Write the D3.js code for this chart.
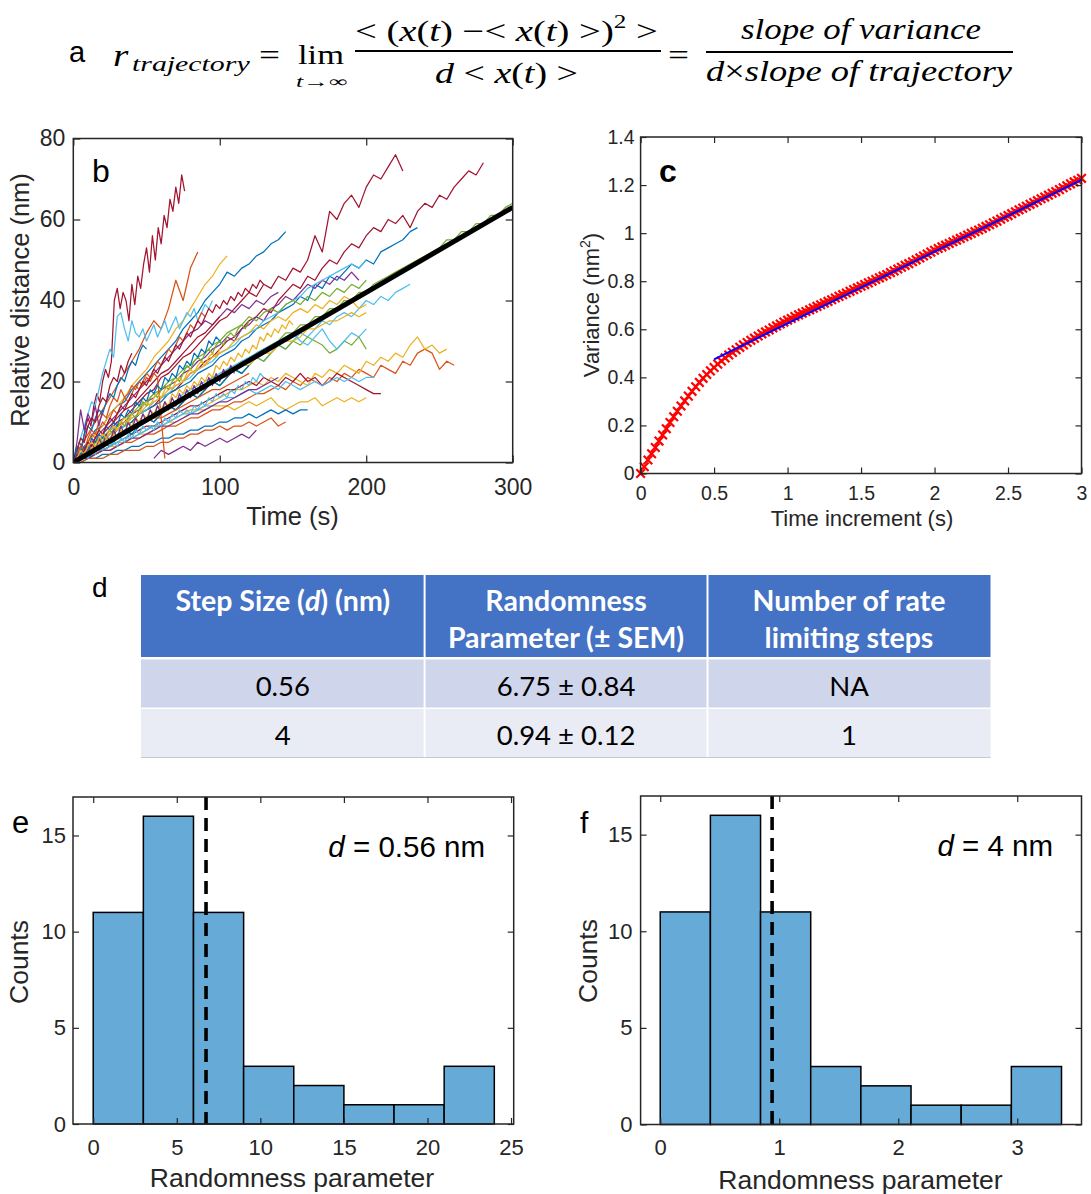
<!DOCTYPE html>
<html><head><meta charset="utf-8">
<script src="https://cdn.jsdelivr.net/npm/d3@7"></script>
<style>html,body{margin:0;padding:0;background:#fff}svg{display:block}</style>
</head><body>
<svg id="fig" width="1091" height="1194"></svg>
<script>
// ---------------- DATA ----------------
// panel b: trajectories (relative distance, nm), sampled from trajStart every trajDt seconds
const palette = ["#0072BD","#D95319","#EDB120","#7E2F8E","#77AC30","#4DBEEE","#A2142F"];
const trajColor = [6,6,6,0,0,4,1,2,3,5,2,1,2,6,5,0,1,3,4,2,5,5,5,3,3,0,1,6,2,4,1,3,0,6,4,2,5,3,0,1,6,2];
const trajStart = [0,0,0,0,0,0,0,0,0,0,0,0,0,0,0,0,0,55,0,0,0,0,0,0,0,0,0,0,0,0,0,0,0,0,0,0,0,0,0,0,0,0];
const trajDt    = [2,5,5,5,5,5,5,5,5,5,5,5,5,5,5,5,5,5,5,5,2.5,5,5,5,5,5,5,5,5,5,2.5,2.5,2.5,2.5,2.5,2.5,2.5,2.5,2.5,2.5,2.5,2.5];
const trajY = [
 [0,2,5,4,8,11,9,14,17,15,20,23,21,25,40,43,38,42,40,35,44,39,46,43,49,53,47,56,50,58,54,61,58,65,62,68,64,71,67],
 [0,1,3,5,6,8,10,11,13,15,17,18,21,22,24,26,27,29,31,33,35,36,38,40,42,41,44,43,46,45,48,47,50,56,52,62,60,64,66,63,68,71,70,73,76,72],
 [0,1,2,4,5,6,8,9,10,12,13,14,16,17,18,20,22,23,25,26,28,30,31,33,35,36,38,37,40,42,44,43,46,45,48,50,49,52,54,53,56,58,57,60,59,61,58,62,64,63,66,65,68,70,72,71,74],
 [0,3,5,8,9,12,14,15,18,20,22,24,26,28,30,33,35,37,40,42,44,47,46,48,49,51,52,54,55,57],
 [0,1,3,4,5,7,8,9,10,12,13,14,15,17,18,19,20,22,23,24,26,27,28,30,31,33,34,35,37,38,39,41,40,44,43,46,45,47,49,48,50,49,52,53,54,55,57,58],
 [0,1,2,3,4,5,6,8,8,10,10,12,12,14,14,16,17,18,19,21,21,23,23,25,25,27,28,29,30,32,32,34,34,36,36,38,38,40,40,42,42,44,45,46,47,48,49,50,51,52,53,55,55,57,57,59,59,61,61,63,64],
 [0,4,7,10,13,16,19,22,25,28,32,35,33,38,45,40,48,52],
 [0,2,5,7,9,12,14,16,19,21,23,26,28,30,33,35,38,41,44,46,49,51],
 [0,1,3,4,6,7,9,10,12,13,15,16,18,19,20,22,23,25,26,28,29,31,30,33,34,36,35,38,39,41,40,42,44,43,45,44,46,45,47,45],
 [0,2,1,3,5,4,6,8,7,9,11,10,12,14,13,15,17,16,18,20,19,21,23,22,24,26,25,27,29,28,30,32,31,33,35,34,36,37,36,38,40,39,41,40,42,43,44],
 [0,1,1,2,3,4,4,5,6,7,7,8,9,10,10,11,12,13,13,14,14,14,13,14,15,14,15,16,14,13,14,15,15,16,14,15,16,15,16,15,16],
 [0,1,1,2,3,3,4,5,5,6,7,7,8,9,9,10,11,11,12,13,13,14,15,15,16,17,17,18,19,18,20,19,21,20,19,21,20,22,21,23,22,21,24,23,22,25,24,27,28,27,23,25,24],
 [0,1,2,2,3,4,5,5,6,7,8,9,9,10,11,12,13,13,14,15,16,17,18,18,19,20,19,21,20,22,21,20,19,22,21,23,22,24,23,22,25,24,26,25,27,26,29,31,28,29,27,28],
 [0,1,2,3,3,4,5,6,7,8,9,9,10,11,12,13,14,14,15,16,17,18,18,19,20,19,21,20,19,21,20,22,20,21,19,20,22,21,20,19,18,17,17],
 [0,1,2,3,3,4,5,6,6,7,8,9,9,10,11,12,12,13,14,14,15,16,16,17,18,17,18,19,18,20,19,18,19,20,19,20,21,20,21,20,21,21],
 [0,0,1,1,2,2,3,3,4,4,5,5,6,6,7,7,8,8,9,9,10,10,11,11,12,11,12,13,12,13,12,13,13],
 [0,0,1,1,1,2,2,3,3,3,4,4,5,5,6,6,7,7,8,8,9,8,9,9,10,9,10,11,9,10],
 [1,3,2,3,4,3,5,4,5,6,5,6,7,6,8],
 [0,2,1,3,5,4,6,8,7,9,11,10,12,14,13,15,17,16,18,20,19,21,23,22,24,26,25,27,29,28,30,29,31,30,29,27,28,30,29,31,28],
 [0,2,3,3,5,6,6,8,9,9,11,12,12,14,15,15,17,18,18,20,21,21,23,24,24,26,27,27,29,30,30,31,33,33,34,35,35,36,37,36,37],
 [0,3,6,9,12,15,14,18,22,25,28,26,36,37,33,30,35,32,31,33,30,32,34,31,33,35,32,34,36,33,35,37,36,38,35,37,39,38,40],
 [0,1,2,3,4,5,7,8,9,10,11,12,13,14,15,17,18,19,20,21,22,23,24,25,26,27,28,29,30,31,32,30,29,31,33,30,28,30,32,31,33],
 [0,1,3,4,5,7,8,9,11,12,13,15,16,17,19,20,21,23,24,25,27,28,29,31,32,33,35,36,37,39,40,41,43,44,45,46,47,48,49,48,50],
 [0,1,1,2,3,3,4,5,6,6,7,8,9,9,10,11,12,12,13,14,15,15,16,17,18,18,19,20,21],
 [0,2,4,6,8,10,12,14,16,18,20,22,24,26,28,30,32,33,35,34,36,38,37,39,38,40,39,41,42],
 [0,2,1,3,5,4,6,8,7,9,11,10,12,14,13,15,17,16,18,20,19,21,23,22,24],
 [0,1,2,3,4,5,6,7,8,9,10,11,11,12,13,14,15,16,17,18,18,19,20,21,22],
 [0,2,4,5,7,9,11,13,14,16,18,20,22,23,25,27,29,31,32,34,36],
 [0,2,3,4,6,7,8,10,11,12,14,15,16,18,19,20,22,23,24,26,27,28,30,31,32,34,33,35,36,35,37,38,37,39,38,40,39,41,40,38,39],
 [0,2,3,5,6,8,9,11,12,14,15,17,18,20,21,23,24,26,27,29,30,32,33,34,36,35,37,38,37,39,40,39,41,40,42,41,43,42,44,43,45],
 [0,2,4,3,6,8,7,10,12,11,14,16,15,18,16,17,19,18,20,19,21,20,22,21,11,1],
 [0,5,13,8,12,10,14,9,13],
 [0,4,3,7,9,8,11,13,12,15,17,16,19,21,20,23,25,24,27,29,28],
 [0,3,6,5,9,11,10,14,16,15,19,21,20,24,22,25,27],
 [0,1,3,2,4,3,5,6,5,7,8,7,9,10,9,11,12,11,13,15,14,16,17,16,18,19,18,20,21,20,22,24,23,25,26,25,27,28,27,29,30,29,31,32,31,33,34,33,35],
 [0,2,1,3,2,4,3,5,4,6,5,7,6,8,7,10,9,11,10,12,11,13,12,14,13,15,14,17,16,18,17,19,18,20,19,21,20,22,21,24,23,25,24,26,25,27,26,28,27,29,28,31,30,32,31,33,32,34,33,35,34],
 [0,2,1,2,1,3,2,4,3,5,4,5,4,6,5,7,6,8,7,9,8,9,8,10,9,11,10,12,11,13,12,13,12,14,13,15,14,16,15,17,16,17,16,18,17,19,18,20,19,21,20,22,21],
 [0,3,1,4,2,5,3,6,4,7,5,8,6,9,7,10,8,11,9,12,10,13,11,14,12,15,13,16,14,17,15,18,16,19,17,20,18,21,19,22,20,23,21,24,22],
 [0,3,2,4,3,6,5,7,6,9,8,10,9,12,11,13,12,15,14,16,15,18,17,19,18,21,20,22,21,24,23,25,24,27,26,28,27,30,29,31,30],
 [0,2,4,3,5,7,6,8,10,9,11,13,12,14,16,15,17,19,18,20,22,21,23,25,24,26,28,27,29,31,30,32,34,33,35,37,36],
 [0,2,1,3,5,4,6,8,7,9,11,10,12,14,13,15,17,16,18,20,19,21,23,22,24,26,25,27,29,28,30,32,31,33,35,34,36,38,37,39,38,40,39,41,40,42,41,43,42,44,43,45,44],
 [0,1,3,2,4,5,4,6,7,6,8,9,8,10,11,10,12,13,12,14,15,14,16,17,16,18,19,18,20,21,20,22,23,22,24,25,24,26,27,26,28]
];
const fitTime = [0, 300];
const fitDistance = [0, 63];
const bTicksX = [0,100,200,300], bTickLabelsX = ["0","100","200","300"];
const bTicksY = [0,20,40,60,80], bTickLabelsY = ["0","20","40","60","80"];

// panel c: variance vs time increment (sampled every varianceStep s)
const varianceStep = 0.025;
const varianceY = [0.000,0.028,0.056,0.082,0.108,0.135,0.160,0.186,0.212,0.236,0.259,0.281,0.302,0.322,0.342,0.361,0.379,0.396,0.412,0.427,
 0.441,0.455,0.468,0.481,0.493,0.504,0.515,0.525,0.535,0.545,0.554,0.563,0.572,0.581,0.589,0.597,0.606,0.614,0.622,0.630,
 0.638,0.645,0.653,0.660,0.667,0.674,0.681,0.688,0.695,0.702,0.709,0.716,0.723,0.730,0.737,0.744,0.751,0.758,0.765,0.772,
 0.779,0.786,0.793,0.800,0.807,0.814,0.821,0.828,0.836,0.843,0.851,0.858,0.866,0.873,0.881,0.889,0.897,0.905,0.913,0.921,
 0.929,0.936,0.943,0.950,0.957,0.964,0.971,0.978,0.985,0.992,0.999,1.006,1.013,1.020,1.028,1.035,1.043,1.050,1.058,1.066,
 1.073,1.081,1.089,1.097,1.104,1.112,1.120,1.127,1.135,1.143,1.150,1.158,1.166,1.173,1.181,1.189,1.197,1.205,1.213,1.220,1.228];
const varFitT = [0.5, 3.0];
const varFitY = [0.475, 1.222];
const cTicksX = [0,0.5,1,1.5,2,2.5,3], cTickLabelsX = ["0","0.5","1","1.5","2","2.5","3"];
const cTicksY = [0,0.2,0.4,0.6,0.8,1,1.2,1.4], cTickLabelsY = ["0","0.2","0.4","0.6","0.8","1","1.2","1.4"];

// panel d: table
const tableRows = [["0.56","6.75 ± 0.84","NA"],["4","0.94 ± 0.12","1"]];

// panels e, f: histograms of randomness parameter
const eBinEdges = [0,3,6,9,12,15,18,21,24];
const eCounts = [11,16,11,3,2,1,1,3];
const eMean = 6.75;
const fBinEdges = [0,0.4215,0.843,1.2645,1.686,2.1075,2.529,2.9505,3.372];
const fCounts = [11,16,11,3,2,1,1,3];
const fMean = 0.94;
const eTicksX = [0,5,10,15,20,25], eTickLabelsX = ["0","5","10","15","20","25"];
const fTicksX = [0,1,2,3], fTickLabelsX = ["0","1","2","3"];
const histTicksY = [0,5,10,15], histTickLabelsY = ["0","5","10","15"];

// ---------------- DRAW ----------------
const svg = d3.select("#fig");
svg.append("rect").attr("width",1091).attr("height",1194).attr("fill","#fff");
const SANS = "'Liberation Sans', Arial, Helvetica, sans-serif";
const SERIF = "'Liberation Serif', 'Times New Roman', serif";
const AX = "#262626";

function axesBox(g, x, y, o) {
  const [xa, xb] = x.range(); const [yb, ya] = y.range();
  const axes = [];
  axes.push(g.append("g").attr("transform",`translate(0,${yb})`)
    .call(d3.axisBottom(x).tickValues(o.xt).tickFormat((d,i)=>o.xl[i]).tickSizeInner(-o.tl).tickSizeOuter(0).tickPadding(o.xp)));
  axes.push(g.append("g").attr("transform",`translate(${xa},0)`)
    .call(d3.axisLeft(y).tickValues(o.yt).tickFormat((d,i)=>o.yl[i]).tickSizeInner(-o.tl).tickSizeOuter(0).tickPadding(o.yp)));
  axes.push(g.append("g").attr("transform",`translate(0,${ya})`)
    .call(d3.axisTop(x).tickValues(o.xt).tickFormat("").tickSizeInner(-o.tl).tickSizeOuter(0)));
  axes.push(g.append("g").attr("transform",`translate(${xb},0)`)
    .call(d3.axisRight(y).tickValues(o.yt).tickFormat("").tickSizeInner(-o.tl).tickSizeOuter(0)));
  axes.forEach(a => {
    a.select(".domain").remove();
    a.selectAll(".tick line").attr("stroke",AX).attr("stroke-width",1.2);
    a.selectAll(".tick text").attr("fill",AX).attr("font-family",SANS).attr("font-size",o.fs);
  });
  g.append("rect").attr("x",xa).attr("y",ya).attr("width",xb-xa).attr("height",yb-ya)
    .attr("fill","none").attr("stroke",AX).attr("stroke-width",1.5);
}
function label(g, txt, x, y, size, opts={}) {
  const t = g.append("text").attr("x",x).attr("y",y).attr("font-family",opts.family||SANS)
    .attr("font-size",size).attr("fill",opts.fill||AX).attr("text-anchor",opts.anchor||"middle")
    .attr("font-weight",opts.weight||"normal").attr("font-style",opts.style||"normal");
  if (opts.rotate) t.attr("transform",`rotate(-90,${x},${y})`);
  t.text(txt);
  return t;
}
function fitText(g, build, x0, x1, baseline) {
  const holder = g.append("g");
  const t = holder.append("text").attr("x",0).attr("y",0).attr("text-anchor","start");
  build(t);
  const bb = t.node().getBBox();
  const sx = (x1 - x0) / bb.width;
  holder.attr("transform",`translate(${x0 - bb.x*sx},${baseline}) scale(${sx},1)`);
  return holder;
}

// ---------- panel a : formula ----------
const fa = svg.append("g");
label(fa,"a",69,62,29,{anchor:"start",fill:"#000"});
function mathText(t, parts, size) {
  t.attr("font-family",SERIF).attr("font-size",size).attr("fill","#000");
  parts.forEach(p => {
    const s = t.append("tspan").text(p[0]);
    if (p[1]==="i") s.attr("font-style","italic");
    if (p[1]==="sup") s.attr("font-size",size*0.65).attr("dy",-size*0.42);
    if (p[1]==="unsup") s.attr("dy",size*0.42);
  });
}
fitText(fa, t=>mathText(t,[["r","i"]],32), 113, 129, 66);
fitText(fa, t=>mathText(t,[["trajectory","i"]],22), 132, 250, 71);
fitText(fa, t=>mathText(t,[["="]],30), 259, 280, 65);
fitText(fa, t=>mathText(t,[["lim"]],27), 298, 344, 64);
fitText(fa, t=>mathText(t,[["t","i"],["→∞"]],16), 296, 348, 87);
fitText(fa, t=>mathText(t,[["< ("],["x","i"],["("],["t","i"],[") −< "],["x","i"],["("],["t","i"],[") >)"],["2","sup"],[" >","unsup"]],30), 355, 658, 41);
fa.append("line").attr("x1",355).attr("x2",661).attr("y1",51).attr("y2",51).attr("stroke","#000").attr("stroke-width",2);
fitText(fa, t=>mathText(t,[["d","i"],[" < "],["x","i"],["("],["t","i"],[") >"]],30), 435, 578, 83);
fitText(fa, t=>mathText(t,[["="]],30), 668, 689, 65);
fitText(fa, t=>mathText(t,[["slope of variance","i"]],30), 741, 981, 39);
fa.append("line").attr("x1",706).attr("x2",1013).attr("y1",52).attr("y2",52).attr("stroke","#000").attr("stroke-width",2);
fitText(fa, t=>mathText(t,[["d","i"],["×"],["slope of trajectory","i"]],30), 706, 1013, 81);

// ---------- panel b ----------
const gb = svg.append("g");
const xb = d3.scaleLinear().domain([0,300]).range([73.3,512.7]);
const yb = d3.scaleLinear().domain([0,80]).range([462.5,138.5]);
svg.append("clipPath").attr("id","clipB").append("rect")
  .attr("x",73.3).attr("y",138.5).attr("width",512.7-73.3).attr("height",462.5-138.5);
const bPlot = gb.append("g").attr("clip-path","url(#clipB)");
trajY.forEach((ys,k) => {
  const line = d3.line().x((d,i)=>xb(trajStart[k] + i*trajDt[k])).y(d=>yb(d));
  bPlot.append("path").attr("d",line(ys)).attr("fill","none")
    .attr("stroke",palette[trajColor[k]]).attr("stroke-width",1.25).attr("stroke-linejoin","round");
});
bPlot.append("path").attr("d",d3.line().x((d,i)=>xb(fitTime[i])).y(d=>yb(d))(fitDistance))
  .attr("stroke","#000").attr("stroke-width",5).attr("fill","none");
axesBox(gb, xb, yb, {xt:bTicksX, xl:bTickLabelsX, yt:bTicksY, yl:bTickLabelsY, tl:7, xp:16, yp:8, fs:23});
label(gb,"Time (s)",292.5,525,25.5);
label(gb,"Relative distance (nm)",29,300,25.5,{rotate:true});
label(gb,"b",92,182,32,{anchor:"start",fill:"#000"});

// ---------- panel c ----------
const gc = svg.append("g");
const xc = d3.scaleLinear().domain([0,3]).range([640.6,1081.5]);
const yc = d3.scaleLinear().domain([0,1.4]).range([473.5,137]);
const mk = 4.3;
gc.append("g").selectAll("path").data(varianceY).join("path")
  .attr("transform",(d,i)=>`translate(${xc(i*varianceStep)},${yc(d)})`)
  .attr("d",`M${-mk},${-mk}L${mk},${mk}M${-mk},${mk}L${mk},${-mk}`)
  .attr("stroke","#FF0000").attr("stroke-width",2.2).attr("fill","none");
gc.append("path").attr("d",d3.line().x((d,i)=>xc(varFitT[i])).y(d=>yc(d))(varFitY))
  .attr("stroke","#0000FF").attr("stroke-width",2).attr("fill","none");
axesBox(gc, xc, yc, {xt:cTicksX, xl:cTickLabelsX, yt:cTicksY, yl:cTickLabelsY, tl:6, xp:13, yp:6, fs:19.5});
label(gc,"Time increment (s)",862,525.5,22);
const vl = gc.append("text").attr("font-family",SANS).attr("font-size",22).attr("fill",AX)
  .attr("text-anchor","middle").attr("transform","translate(599,305) rotate(-90)");
vl.append("tspan").text("Variance (nm");
vl.append("tspan").text("2").attr("font-size",14).attr("dy",-9);
vl.append("tspan").text(")").attr("dy",9);
label(gc,"c",659,182,32,{anchor:"start",fill:"#000",weight:"bold"});

// ---------- panel d : table ----------
const gd = svg.append("g");
label(gd,"d",92,597,28,{anchor:"start",fill:"#000"});
const TF = "Lato, 'Open Sans', sans-serif";
const colX = [141,424.6,707.5,990.5];
gd.append("rect").attr("x",colX[0]).attr("y",575).attr("width",colX[3]-colX[0]).attr("height",82).attr("fill","#4472C4");
gd.append("rect").attr("x",colX[0]).attr("y",659.5).attr("width",colX[3]-colX[0]).attr("height",48).attr("fill","#CFD5EA");
gd.append("rect").attr("x",colX[0]).attr("y",709).attr("width",colX[3]-colX[0]).attr("height",48).attr("fill","#E9EBF5");
[colX[1],colX[2]].forEach(x => gd.append("line").attr("x1",x).attr("x2",x).attr("y1",575).attr("y2",757)
  .attr("stroke","#fff").attr("stroke-width",2));
gd.append("line").attr("x1",colX[0]).attr("x2",colX[3]).attr("y1",757.5).attr("y2",757.5).attr("stroke","#C9C9C9").attr("stroke-width",1);
const colC = [0,1,2].map(i => (colX[i]+colX[i+1])/2);
function tcell(txt, x, y, bold, parts) {
  const t = gd.append("text").attr("x",x).attr("y",y).attr("text-anchor","middle").attr("font-family",TF)
    .attr("font-size",bold?28.5:27.5).attr("font-weight",bold?"bold":"normal").attr("fill",bold?"#fff":"#000");
  if (parts) parts.forEach(p => { const s=t.append("tspan").text(p[0]); if(p[1]) s.attr("font-style","italic"); });
  else t.text(txt);
  return t;
}
tcell(null, colC[0], 611, true, [["Step Size ("],["d",1],[") (nm)"]]);
tcell("Randomness", colC[1], 611, true);
tcell("Parameter (± SEM)", colC[1], 647.5, true);
tcell("Number of rate", colC[2], 611, true);
tcell("limiting steps", colC[2], 647.5, true);
tableRows.forEach((row,r) => row.forEach((v,c) => tcell(v, colC[c], r===0?695.5:744.5, false)));

// ---------- panels e, f : histograms ----------
function histogram(g, x, y, edges, counts, mean) {
  g.append("g").selectAll("rect").data(counts).join("rect")
    .attr("x",(d,i)=>x(edges[i])).attr("width",(d,i)=>x(edges[i+1])-x(edges[i]))
    .attr("y",d=>y(d)).attr("height",d=>y(0)-y(d))
    .attr("fill","#66AAD7").attr("stroke","#000").attr("stroke-width",1.5);
  g.append("line").attr("x1",x(mean)).attr("x2",x(mean)).attr("y1",y(17)).attr("y2",y(0))
    .attr("stroke","#000").attr("stroke-width",3.6).attr("stroke-dasharray","13,8");
}
const ge = svg.append("g");
const xe = d3.scaleLinear().domain([-1.21,25.16]).range([73,513.7]);
const ye = d3.scaleLinear().domain([0,17]).range([1124,797]);
histogram(ge, xe, ye, eBinEdges, eCounts, eMean);
axesBox(ge, xe, ye, {xt:eTicksX, xl:eTickLabelsX, yt:histTicksY, yl:histTickLabelsY, tl:6, xp:15, yp:7, fs:22});
label(ge,"Randomness parameter",292,1187,26.5);
label(ge,"Counts",28,962,26.5,{rotate:true});
label(ge,"e",12,833,31,{anchor:"start",fill:"#000"});
const ae = ge.append("text").attr("x",485).attr("y",857).attr("text-anchor","end").attr("font-family",SANS).attr("font-size",29.5).attr("fill","#000");
ae.append("tspan").text("d").attr("font-style","italic"); ae.append("tspan").text(" = 0.56 nm");

const gf = svg.append("g");
const xf = d3.scaleLinear().domain([-0.165,3.54]).range([640.6,1081.5]);
const yf = d3.scaleLinear().domain([0,17]).range([1124.5,796]);
histogram(gf, xf, yf, fBinEdges, fCounts, fMean);
axesBox(gf, xf, yf, {xt:fTicksX, xl:fTickLabelsX, yt:histTicksY, yl:histTickLabelsY, tl:6, xp:15, yp:8, fs:22});
label(gf,"Randomness parameter",860.5,1189,26.5);
label(gf,"Counts",597,961,26.5,{rotate:true});
label(gf,"f",580,833,30,{anchor:"start",fill:"#000"});
const af = gf.append("text").attr("x",1053).attr("y",856).attr("text-anchor","end").attr("font-family",SANS).attr("font-size",29.5).attr("fill","#000");
af.append("tspan").text("d").attr("font-style","italic"); af.append("tspan").text(" = 4 nm");
</script>
</body></html>
